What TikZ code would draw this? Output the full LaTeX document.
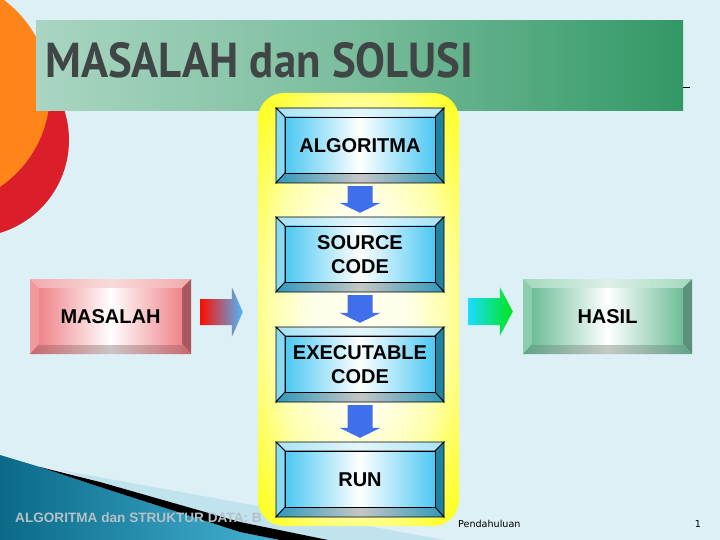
\documentclass[tikz,border=0pt]{standalone}
\usepackage{fontspec}
\usepackage{graphicx}
\setmainfont{Liberation Sans}
\newfontfamily\titlefont{PT Sans}
\newfontfamily\footfont{DejaVu Sans}
\usetikzlibrary{calc}

\definecolor{bgc}{HTML}{DDF0F6}
\definecolor{orangec}{HTML}{FF8419}
\definecolor{redc}{HTML}{DA1F2B}
\definecolor{banL}{HTML}{A9D5C2}
\definecolor{banR}{HTML}{329865}
\definecolor{titlec}{HTML}{404545}
\definecolor{tealdark}{HTML}{0B6A88}
\definecolor{teallight}{HTML}{45B2D4}
\definecolor{stripelight}{HTML}{C0E3EE}
\definecolor{footc}{HTML}{B4C1C7}
\definecolor{arrowblue}{HTML}{3F6FEA}
% blue scheme
\definecolor{bltop}{HTML}{A8E2F6}
\definecolor{bltopmid}{HTML}{E4F6FC}
\definecolor{blleft}{HTML}{86DAF3}
\definecolor{blright}{HTML}{22819F}
\definecolor{blside}{HTML}{2F98BA}
\definecolor{blbotmid}{HTML}{C6C6C6}
\definecolor{blface}{HTML}{4CC8F2}
% red scheme
\definecolor{rdtop}{HTML}{F2AAAD}
\definecolor{rdtopmid}{HTML}{F9DADB}
\definecolor{rdleft}{HTML}{F09A9E}
\definecolor{rdright}{HTML}{A8585C}
\definecolor{rdside}{HTML}{C9676C}
\definecolor{rdbotmid}{HTML}{CCC4C4}
\definecolor{rdface}{HTML}{EF8489}
% green scheme
\definecolor{grtop}{HTML}{A4D8C0}
\definecolor{grtopmid}{HTML}{DDF0E6}
\definecolor{grleft}{HTML}{8CCDAE}
\definecolor{grright}{HTML}{5B9079}
\definecolor{grside}{HTML}{5FA385}
\definecolor{grbotmid}{HTML}{C6C8C6}
\definecolor{grface}{HTML}{6DBE98}
% yellow
\definecolor{yc0}{HTML}{FFFFEA}
\definecolor{yc1}{HTML}{FFFFA8}
\definecolor{yc2}{HTML}{FFFF50}
\definecolor{yc3}{HTML}{FFFF2A}
\pgfdeclareradialshading{yelshade}{\pgfpoint{0bp}{0bp}}{color(0bp)=(yc0); color(12bp)=(yc0); color(22bp)=(yc1); color(29bp)=(yc2); color(33bp)=(yc3); color(50bp)=(yc3)}

\tikzset{
  btntext/.style={font=\fontsize{20}{24}\selectfont\bfseries, align=center, inner sep=0pt, text=black},
  blk/.style={draw=black, line width=0.8pt},
}

% #1 line option, #2 name, #3 x1, #4 y1, #5 x2, #6 y2, #7 scheme, #8 text
\newcommand\bbtn[8][draw=none]{%
  \shade[left color=#7top, right color=#7top, middle color=#7topmid, #1] (#3,#4) -- (#5,#4) -- (#5-9,#4+9) -- (#3+9,#4+9) -- cycle;
  \fill[#7left, #1] (#3,#4) -- (#3+9,#4+9) -- (#3+9,#6-10) -- (#3,#6) -- cycle;
  \fill[#7right, #1] (#5,#4) -- (#5-9,#4+9) -- (#5-9,#6-10) -- (#5,#6) -- cycle;
  \shade[left color=#7side, right color=#7side, middle color=#7botmid, #1] (#3,#6) -- (#3+9,#6-10) -- (#5-9,#6-10) -- (#5,#6) -- cycle;
  \shade[left color=#7face, right color=#7face, middle color=white, #1] (#3+9,#4+9) rectangle (#5-9,#6-10);
  \node[btntext, minimum width={#5-#3}, minimum height={#6-#4}] (#2) at ({(#3+#5)/2},{(#4+#6)/2}) {#8};
}

\newcommand\blkdown[2]{%
  \fill[arrowblue] ($(#1.south)+(-12.5,3)$) -- ($(#1.south)+(12.5,3)$) -- ($(#2.north)+(12.5,-14)$) -- ($(#2.north)+(20.5,-14)$) -- ($(#2.north)+(0,-4)$) -- ($(#2.north)+(-20.5,-14)$) -- ($(#2.north)+(-12.5,-14)$) -- cycle;
}

\begin{document}
\begin{tikzpicture}[x=1pt,y=-1pt]
\useasboundingbox (0,0) rectangle (720,540);
\fill[bgc] (0,0) rectangle (720,540);

% corner circles
\fill[redc] (-28,140) circle (97pt);
\fill[orangec] (-65,92) circle (115pt);

% bottom-left swoosh
\fill[stripelight] (60,470) -- (445,540) -- (328,540) -- (240,522) -- (100,482) -- cycle;
\shade[left color=tealdark, right color=teallight] (0,455) -- (40,467) -- (100,487) -- (240,532) -- (280,540) -- (0,540) -- cycle;
\fill[black] (40,467) -- (100,482) -- (240,522) -- (328,540) -- (280,540) -- (240,532) -- (100,487) -- cycle;

% footer left text
\node[anchor=base west, inner sep=0, text=footc, font=\fontsize{13.6}{15}\selectfont\bfseries] (foot) at (15,522) {ALGORITMA dan STRUKTUR DATA: B};

% title banner
\node[shade, left color=banL, right color=banR, middle color=banL!60!banR, minimum width=647pt, minimum height=90pt, inner sep=0] (banner) at (359.5,66) {};
\node[anchor=base west, inner sep=0, text=titlec] (title) at (45,78) {\resizebox{428pt}{35pt}{\titlefont\bfseries MASALAH dan SOLUSI}};
\draw[black, line width=0.8pt] (683,87) -- (690,87);

% yellow process box
\node[shade, shading=yelshade, rounded corners=26pt, minimum width=201pt, minimum height=433pt, inner sep=0] (proc) at (358.5,309.5) {};

% blue buttons
\bbtn[blk]{alg}{276}{108}{444}{183}{bl}{ALGORITMA}
\bbtn[blk]{src}{276}{217}{444}{292}{bl}{SOURCE\\CODE}
\bbtn[blk]{exe}{276}{327}{444}{402}{bl}{EXECUTABLE\\CODE}
\bbtn[blk]{run}{276}{442}{444}{517}{bl}{RUN}

% side buttons
\bbtn{masalah}{30}{279}{191}{354}{rd}{MASALAH}
\bbtn{hasil}{523}{279}{692}{354}{gr}{HASIL}

% blue down arrows
\blkdown{alg}{src}
\blkdown{src}{exe}
\blkdown{exe}{run}

% red-blue arrow masalah -> process
\coordinate (ra1) at ($(masalah.east)+(9,-4.5)$);
\coordinate (ra2) at ($(proc.west)+(-15,0)$);
\coordinate (rt) at (ra2 |- ra1);
\shade[left color=red!90!orange, right color=cyan!60!blue!70!white]
  ($(ra1)+(0,-13)$) -- ($(rt)+(-11,-13)$) -- ($(rt)+(-11,-25)$) -- (rt) -- ($(rt)+(-11,25)$) -- ($(rt)+(-11,13)$) -- ($(ra1)+(0,13)$) -- cycle;

% cyan-green arrow process -> hasil
\coordinate (ga1) at ($(proc.east)+(9,2)$);
\coordinate (ga2) at ($(hasil.west)+(-10,0)$);
\coordinate (gt) at (ga2 |- ga1);
\shade[left color=cyan!85!blue!90!white, right color=green!90!cyan!90!black]
  ($(ga1)+(0,-13.5)$) -- ($(gt)+(-13,-13.5)$) -- ($(gt)+(-13,-24.5)$) -- (gt) -- ($(gt)+(-13,24.5)$) -- ($(gt)+(-13,13.5)$) -- ($(ga1)+(0,13.5)$) -- cycle;

% footer right
\node[anchor=base west, inner sep=0, font=\footfont\fontsize{9.6}{11}\selectfont] (pend) at (458,527) {Pendahuluan};
\node[anchor=base, inner sep=0, font=\footfont\fontsize{9.6}{11}\selectfont] (pg) at (698,527) {1};
\end{tikzpicture}
\end{document}
